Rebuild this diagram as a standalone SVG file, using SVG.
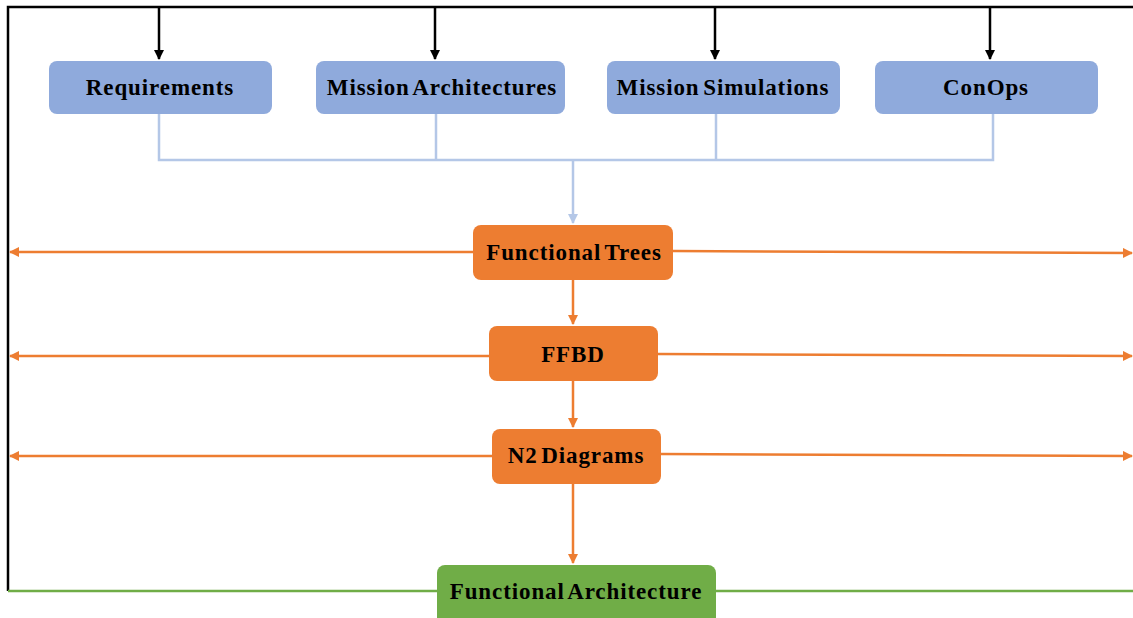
<svg xmlns="http://www.w3.org/2000/svg" width="1133" height="618" viewBox="0 0 1133 618">
<style>
.lbl{font-family:"Liberation Serif","Times New Roman",serif;font-weight:bold;font-size:23px;letter-spacing:0.9px;fill:#000;text-anchor:middle;word-spacing:-3px}
.blue{fill:#8faadc}
.orange{fill:#ed7d31}
.green{fill:#70ad47}
.blk{stroke:#000;stroke-width:2.5;fill:none}
.bl{stroke:#b4c7e7;stroke-width:2.5;fill:none}
.or{stroke:#ed7d31;stroke-width:2.5;fill:none}
.gr{stroke:#70ad47;stroke-width:2.5;fill:none}
</style>
<defs>
<marker id="ab" viewBox="0 0 10 10" refX="9" refY="5" markerWidth="4" markerHeight="4" orient="auto"><path d="M0,0L10,5L0,10z" fill="#000"/></marker>
<marker id="ablue" viewBox="0 0 10 10" refX="9" refY="5" markerWidth="4" markerHeight="4" orient="auto"><path d="M0,0L10,5L0,10z" fill="#b4c7e7"/></marker>
<marker id="aor" viewBox="0 0 10 10" refX="9" refY="5" markerWidth="4" markerHeight="4" orient="auto"><path d="M0,0L10,5L0,10z" fill="#ed7d31"/></marker>
</defs>
<rect width="1133" height="618" fill="#fff"/>
<g id="connectors">
<path class="blk" d="M8,591V7H1133"/>
<path class="blk" marker-end="url(#ab)" d="M159,7V59"/>
<path class="blk" marker-end="url(#ab)" d="M435,7V59"/>
<path class="blk" marker-end="url(#ab)" d="M715,7V59"/>
<path class="blk" marker-end="url(#ab)" d="M990,7V59"/>
<path class="bl" d="M159,114V160H993V114"/>
<path class="bl" d="M436,114V160"/>
<path class="bl" d="M716,114V160"/>
<path class="bl" marker-end="url(#ablue)" d="M573,160V223"/>
<path class="or" marker-end="url(#aor)" d="M473,252H10"/>
<path class="or" marker-end="url(#aor)" d="M673,251L1132,253"/>
<path class="or" marker-end="url(#aor)" d="M489,356H10"/>
<path class="or" marker-end="url(#aor)" d="M658,354L1132,356"/>
<path class="or" marker-end="url(#aor)" d="M492,456H10"/>
<path class="or" marker-end="url(#aor)" d="M661,454L1132,456"/>
<path class="or" marker-end="url(#aor)" d="M573,280V324"/>
<path class="or" marker-end="url(#aor)" d="M573,381V427"/>
<path class="or" marker-end="url(#aor)" d="M573,484V563"/>
<path class="gr" d="M8,591H437"/>
<path class="gr" d="M716,591H1133"/>
</g>
<g id="requirements"><rect class="blue" x="49" y="61" width="223" height="53" rx="8"/><text class="lbl" x="160" y="95">Requirements</text></g>
<g id="mission-architectures"><rect class="blue" x="316" y="61" width="249" height="53" rx="8"/><text class="lbl" x="442" y="95">Mission Architectures</text></g>
<g id="mission-simulations"><rect class="blue" x="607" y="61" width="233" height="53" rx="8"/><text class="lbl" x="723" y="95">Mission Simulations</text></g>
<g id="conops"><rect class="blue" x="875" y="61" width="223" height="53" rx="8"/><text class="lbl" x="986" y="95">ConOps</text></g>
<g id="functional-trees"><rect class="orange" x="473" y="225" width="200" height="55" rx="8"/><text class="lbl" x="574" y="260">Functional Trees</text></g>
<g id="ffbd"><rect class="orange" x="489" y="326" width="169" height="55" rx="8"/><text class="lbl" x="573" y="362">FFBD</text></g>
<g id="n2-diagrams"><rect class="orange" x="492" y="429" width="169" height="55" rx="8"/><text class="lbl" x="576" y="463">N2 Diagrams</text></g>
<g id="functional-architecture"><rect class="green" x="437" y="565" width="279" height="60" rx="8"/><text class="lbl" x="576" y="599">Functional Architecture</text></g>
</svg>
